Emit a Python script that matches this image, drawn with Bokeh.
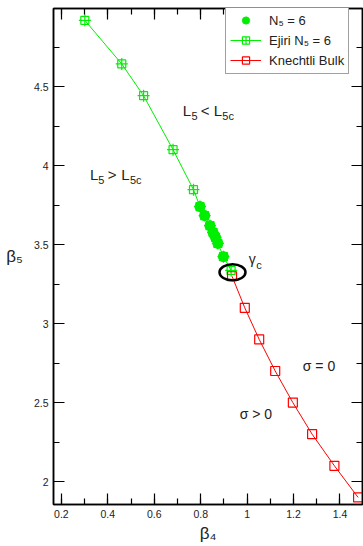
import numpy as np
from bokeh.plotting import figure
from bokeh.models import Label, Legend, LegendItem, LinearAxis, FixedTicker, Range1d
from bokeh.embed import file_html
from bokeh.resources import INLINE

# ---------------- data ----------------
ejiri_beta4 = [0.301, 0.460, 0.554, 0.681, 0.769, 0.797, 0.817, 0.840, 0.853, 0.864, 0.874, 0.898, 0.931]
ejiri_beta5 = [4.920, 4.644, 4.443, 4.101, 3.848, 3.741, 3.684, 3.620, 3.578, 3.546, 3.508, 3.424, 3.337]

n5_beta4 = [0.797, 0.817, 0.840, 0.853, 0.864, 0.874, 0.898]
n5_beta5 = [3.741, 3.684, 3.620, 3.578, 3.546, 3.508, 3.424]

bulk_beta4 = [0.935, 0.990, 1.052, 1.121, 1.197, 1.280, 1.376, 1.478]
bulk_beta5 = [3.3, 3.1, 2.9, 2.7, 2.5, 2.3, 2.1, 1.9]

gamma_c_beta4 = [0.937]
gamma_c_beta5 = [3.325]

x_ticks = [0.2, 0.4, 0.6, 0.8, 1.0, 1.2, 1.4]
x_tick_labels = ["0.2", "0.4", "0.6", "0.8", "1", "1.2", "1.4"]
y_ticks = [2.0, 2.5, 3.0, 3.5, 4.0, 4.5]
y_tick_labels = ["2", "2.5", "3", "3.5", "4", "4.5"]

legend_labels = ["N\u2085 = 6", "Ejiri N\u2085 = 6", "Knechtli Bulk"]
x_title = "\u03b2\u2084"
y_title = "\u03b2\u2085"

GREEN = "#00ee00"
RED = "#ff0000"
FONT = "Liberation Sans"

x_minor = list(np.round(np.arange(0.1, 1.55, 0.1), 3))
y_minor = list(np.round(np.arange(1.75, 5.01, 0.25), 3))

p = figure(width=363, height=546, output_backend="svg", toolbar_location=None,
           x_range=Range1d(0.166, 1.497), y_range=Range1d(1.855, 4.995),
           min_border_left=53, min_border_right=1, min_border_top=8, min_border_bottom=42)
p.xaxis.visible = False
p.yaxis.visible = False
p.grid.visible = False
p.outline_line_color = "black"
p.outline_line_width = 1.5
p.background_fill_color = "white"
p.border_fill_color = "white"

xt = FixedTicker(ticks=x_ticks, minor_ticks=x_minor)
yt = FixedTicker(ticks=y_ticks, minor_ticks=y_minor)


def style_axis(ax, overrides):
    ax.major_tick_in = 11
    ax.major_tick_out = 0
    ax.minor_tick_in = 6
    ax.minor_tick_out = 0
    ax.axis_line_color = "black"
    ax.axis_line_width = 1.5
    ax.major_tick_line_width = 1.2
    ax.minor_tick_line_width = 1.2
    ax.major_label_text_font = FONT
    ax.major_label_text_font_size = "10.5px"
    ax.major_label_text_color = "#222222"
    ax.major_label_standoff = 5
    ax.major_label_overrides = overrides


xo = {v: s for v, s in zip(x_ticks, x_tick_labels)}
yo = {v: s for v, s in zip(y_ticks, y_tick_labels)}
blank_x = {v: "" for v in x_ticks}
blank_y = {v: "" for v in y_ticks}

bx = LinearAxis(ticker=xt); style_axis(bx, xo)
bx.axis_label = x_title
bx.axis_label_text_font = FONT
bx.axis_label_text_font_size = "17px"
bx.axis_label_text_font_style = "normal"
bx.axis_label_text_color = "#222222"
bx.axis_label_standoff = 3
p.add_layout(bx, "below")

lx = LinearAxis(ticker=yt); style_axis(lx, yo)
lx.axis_label = y_title
lx.axis_label_orientation = "horizontal"
lx.axis_label_text_font = FONT
lx.axis_label_text_font_size = "17px"
lx.axis_label_text_font_style = "normal"
lx.axis_label_text_color = "#222222"
lx.axis_label_standoff = 8
p.add_layout(lx, "left")

tx = LinearAxis(ticker=xt); style_axis(tx, blank_x)
tx.major_label_standoff = 0
p.add_layout(tx, "above")
rx = LinearAxis(ticker=yt); style_axis(rx, blank_y)
rx.major_label_standoff = 0
p.add_layout(rx, "right")

# ---------------- glyphs ----------------
r_gl = p.line(ejiri_beta4, ejiri_beta5, line_color=GREEN, line_width=1)
r_rl = p.line(bulk_beta4, bulk_beta5, line_color=RED, line_width=1)
r_gs = p.scatter(ejiri_beta4, ejiri_beta5, marker="square", size=8, fill_color=None,
                 line_color=GREEN, line_width=1.2)
r_gc = p.scatter(ejiri_beta4, ejiri_beta5, marker="cross", size=12,
                 line_color=GREEN, line_width=1.2)
r_rs = p.scatter(bulk_beta4, bulk_beta5, marker="square", size=9, fill_color=None,
                 line_color=RED, line_width=1.2)
r_dot = p.scatter(n5_beta4, n5_beta5, marker="circle", size=10, fill_color=GREEN,
                  line_color=GREEN)
p.ellipse(gamma_c_beta4, gamma_c_beta5, width=26, height=16, width_units="screen",
          height_units="screen", fill_color=None, line_color="black", line_width=2.5)

legend = Legend(items=[
    LegendItem(label=legend_labels[0], renderers=[r_dot]),
    LegendItem(label=legend_labels[1], renderers=[r_gl, r_gs, r_gc]),
    LegendItem(label=legend_labels[2], renderers=[r_rl, r_rs]),
], location=(172, 430))
legend.label_text_font = FONT
legend.label_text_font_size = "13px"
legend.label_text_color = "#222222"
legend.glyph_width = 31
legend.glyph_height = 18
legend.label_height = 18
legend.spacing = 2
legend.padding = 4
legend.margin = 0
legend.label_standoff = 8
legend.border_line_color = "#444444"
legend.border_line_width = 1.2
legend.background_fill_alpha = 1
p.add_layout(legend)


def txt(s, x, y, size):
    lab = Label(x=x, y=y, text=s, text_font=FONT, text_font_size=size, text_color="#222222",
                text_align="left", text_baseline="alphabetic")
    p.add_layout(lab)


# region annotations
txt("L", 0.723, 4.348, "15px"); txt("5", 0.760, 4.316, "11px")
txt("<", 0.8005, 4.348, "15px"); txt("L", 0.856, 4.348, "15px"); txt("5c", 0.893, 4.316, "11px")
txt("L", 0.323, 3.943, "15px"); txt("5", 0.359, 3.911, "11px")
txt(">", 0.400, 3.943, "15px"); txt("L", 0.458, 3.943, "15px"); txt("5c", 0.495, 3.911, "11px")
txt("\u03b3", 1.007, 3.408, "14px"); txt("c", 1.039, 3.373, "11px")
txt("\u03c3 = 0", 1.240, 2.734, "14px")
txt("\u03c3 > 0", 0.968, 2.430, "14px")

open("out.html", "w").write(file_html(p, INLINE))
